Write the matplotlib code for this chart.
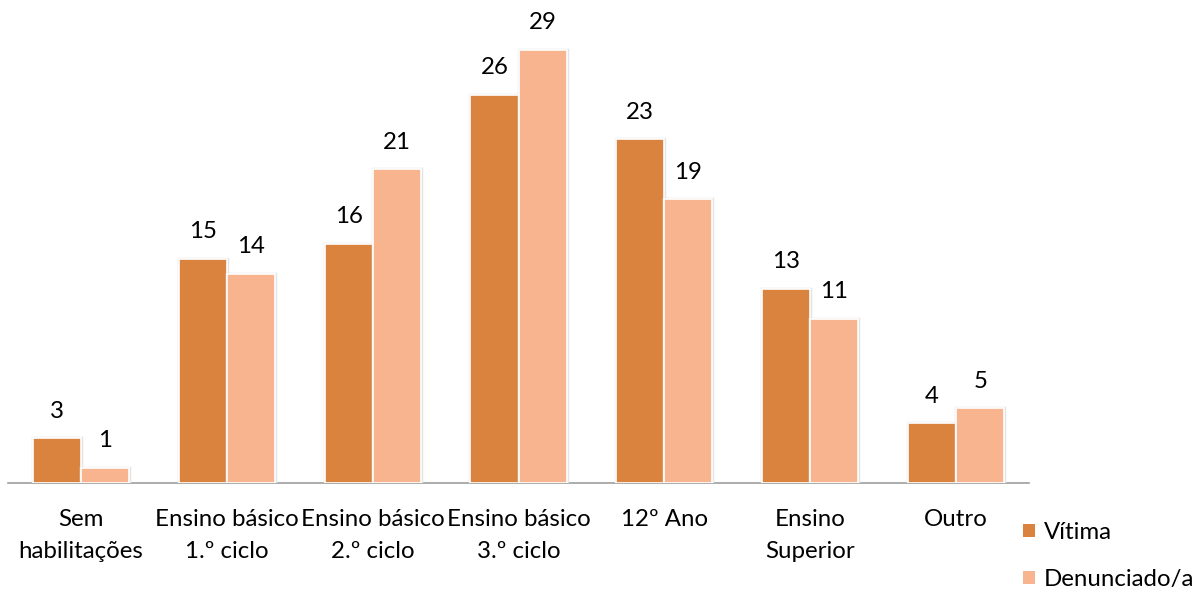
import matplotlib
matplotlib.use("Agg")
import matplotlib.pyplot as plt
import matplotlib.patheffects as pe
import numpy as np

plt.rcParams['font.family'] = ['Lato', 'DejaVu Sans']

categories = ["Sem\nhabilitações", "Ensino básico\n1.º ciclo", "Ensino básico\n2.º ciclo",
              "Ensino básico\n3.º ciclo", "12º Ano", "Ensino\nSuperior", "Outro"]
vitima = [3, 15, 16, 26, 23, 13, 4]
denunciado = [1, 14, 21, 29, 19, 11, 5]
series_names = ["Vítima", "Denunciado/a"]
colors = ["#D9833F", "#F8B48E"]

FS = 17.3

fig = plt.figure(figsize=(12, 5.92), dpi=100)
ax = fig.add_axes([8/1200, 109/592, 1021/1200, (592-109-5)/592])

x = np.arange(len(categories))
w = 0.33
effects = [pe.Stroke(linewidth=2.5, foreground="#e4e4e4"), pe.Normal()]
for vals, off, col, name in [(vitima, -w/2, colors[0], series_names[0]),
                             (denunciado, w/2, colors[1], series_names[1])]:
    bars = ax.bar(x + off, vals, width=w, color=col, edgecolor="white",
                  linewidth=1.2, label=name, zorder=3)
    for b in bars:
        b.set_path_effects(effects)
    for xi, v in zip(x + off, vals):
        ax.annotate(str(v), (xi, v), xytext=(0, 12), textcoords="offset points",
                    ha="center", va="bottom", fontsize=FS, color="#000000")

ax.set_xlim(-0.5, len(categories) - 0.5)
ax.set_ylim(0, 32)
ax.set_yticks([])
for s in ["top", "right", "left"]:
    ax.spines[s].set_visible(False)
ax.spines["bottom"].set_color("#9e9e9e")
ax.spines["bottom"].set_linewidth(1.2)
ax.set_xticks(x)
ax.set_xticklabels(categories, fontsize=FS, linespacing=1.6)
ax.tick_params(axis="x", length=0, pad=19)

handles, labels = ax.get_legend_handles_labels()
leg = fig.legend(handles, labels, loc="upper left", bbox_to_anchor=(1023/1200, 1 - 522/592),
                 frameon=False, fontsize=FS, handlelength=0.5, handleheight=0.5,
                 handletextpad=0.35, labelspacing=1.08, borderaxespad=0, borderpad=0)
for h in leg.legend_handles:
    h.set_path_effects([])
    h.set_edgecolor("none")

fig.savefig("out.png", dpi=100)
